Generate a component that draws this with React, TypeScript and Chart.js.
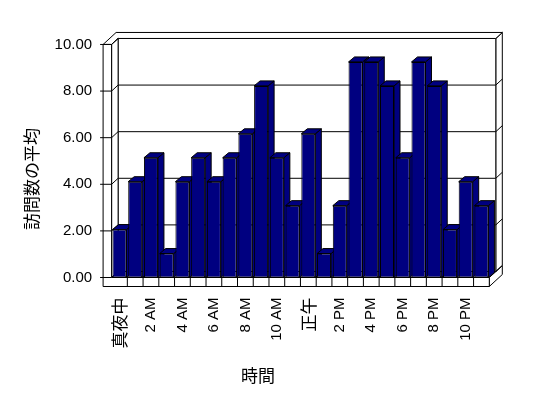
import React, { useEffect, useRef } from "react";
import { Chart, registerables } from "chart.js";

Chart.register(...registerables);

const categories = [
  "真夜中", "1 AM", "2 AM", "3 AM", "4 AM", "5 AM", "6 AM", "7 AM", "8 AM", "9 AM", "10 AM", "11 AM",
  "正午", "1 PM", "2 PM", "3 PM", "4 PM", "5 PM", "6 PM", "7 PM", "8 PM", "9 PM", "10 PM", "11 PM",
];
const visits = [2, 4, 5, 1, 4, 5, 4, 5, 6, 8, 5, 3, 6, 1, 3, 9, 9, 8, 5, 9, 8, 2, 4, 3];
const yTickValues = [0, 2, 4, 6, 8, 10];
const yTickLabels = ["0.00", "2.00", "4.00", "6.00", "8.00", "10.00"];
const xAxisTitle = "時間";
const yAxisTitle = "訪問数の平均";

const NAVY = "#000080";
const DX = 6.5;
const DY = -6;
const BDX = 6;
const BDY = -5;
const KF = 0.973;
const LATIN = "'Liberation Sans', Arial, sans-serif";
const CJK = "'Noto Sans CJK JP', 'Noto Sans CJK SC', sans-serif";

function poly(ctx: CanvasRenderingContext2D, pts: number[][], fill: string | null) {
  ctx.beginPath();
  pts.forEach((p, i) => (i === 0 ? ctx.moveTo(p[0], p[1]) : ctx.lineTo(p[0], p[1])));
  ctx.closePath();
  if (fill) {
    ctx.fillStyle = fill;
    ctx.fill();
  }
  ctx.stroke();
}
function line(ctx: CanvasRenderingContext2D, x1: number, y1: number, x2: number, y2: number) {
  ctx.beginPath();
  ctx.moveTo(x1, y1);
  ctx.lineTo(x2, y2);
  ctx.stroke();
}
const isCJK = (s: string) => /[\u3000-\u9fff]/.test(s);

const box3d = {
  id: "box3d",
  beforeDatasetsDraw(chart: any) {
    const { ctx, chartArea: ca, scales } = chart;
    const ys = scales.y;
    const xs = scales.x;
    const y0 = ys.getPixelForValue(0);
    const yF = (v: number) => y0 - (y0 - ys.getPixelForValue(v)) * KF;
    const yB = (v: number) => yF(v) + DY;
    const L1 = ca.left;
    const L0 = L1 - 8.5;
    const R = ca.right;
    const Ft = y0;
    const Fb = Ft + 9;
    const Wt = yF(yTickValues[yTickValues.length - 1]);
    ctx.save();
    ctx.lineWidth = 1;
    ctx.strokeStyle = "#000";
    // floor right face
    poly(ctx, [[R, Ft], [R + 2 * DX, Ft + 2 * DY], [R + 2 * DX, Fb + 2 * DY], [R, Fb]], "#fff");
    // back wall right face
    poly(ctx, [[R + DX, Wt + DY], [R + 2 * DX, Wt + 2 * DY], [R + 2 * DX, Ft + 2 * DY], [R + DX, Ft + DY]], "#fff");
    yTickValues.forEach((v) => line(ctx, R + DX, yB(v), R + 2 * DX, yB(v) + DY));
    // back wall inner face
    poly(ctx, [[L1 + DX, Wt + DY], [R + DX, Wt + DY], [R + DX, Ft + DY], [L1 + DX, Ft + DY]], "#fff");
    yTickValues.forEach((v) => line(ctx, L1 + DX, yB(v), R + DX, yB(v)));
    // top of walls
    poly(ctx, [[L0, Wt], [L0 + 2 * DX, Wt + 2 * DY], [R + 2 * DX, Wt + 2 * DY], [R + DX, Wt + DY], [L1 + DX, Wt + DY], [L1, Wt]], "#fff");
    // floor top
    poly(ctx, [[L1, Ft], [R, Ft], [R + DX, Ft + DY], [L1 + DX, Ft + DY]], "#fff");
    // left wall inner face
    poly(ctx, [[L1, Wt], [L1 + DX, Wt + DY], [L1 + DX, Ft + DY], [L1, Ft]], "#fff");
    yTickValues.forEach((v) => line(ctx, L1, yF(v), L1 + DX, yB(v)));
    // front faces (left wall + floor)
    poly(ctx, [[L0, Wt], [L1, Wt], [L1, Ft], [R, Ft], [R, Fb], [L0, Fb]], "#fff");
    yTickValues.forEach((v) => line(ctx, L0 - 3, yF(v), L1, yF(v)));
    for (let i = 1; i < categories.length; i++) {
      const bx = (xs.getPixelForValue(i - 1) + xs.getPixelForValue(i)) / 2;
      line(ctx, bx, Ft, bx, Fb);
    }
    // bar sides and tops
    const meta = chart.getDatasetMeta(0);
    meta.data.forEach((el: any) => {
      const { x, y, base, width } = el.getProps(["x", "y", "base", "width"], true);
      const xL = x - width / 2;
      const xR = x + width / 2;
      poly(ctx, [[xR, y], [xR + BDX, y + BDY], [xR + BDX, base + BDY], [xR, base]], NAVY);
      poly(ctx, [[xL, y], [xL + BDX, y + BDY], [xR + BDX, y + BDY], [xR, y]], NAVY);
    });
    ctx.restore();
  },
  afterDraw(chart: any) {
    const { ctx, chartArea: ca, scales } = chart;
    const ys = scales.y;
    const xs = scales.x;
    const y0 = ys.getPixelForValue(0);
    const yF = (v: number) => y0 - (y0 - ys.getPixelForValue(v)) * KF;
    const L0 = ca.left - 8.5;
    const Fb = y0 + 9;
    ctx.save();
    ctx.fillStyle = "#000";
    ctx.font = `15px ${LATIN}`;
    ctx.textAlign = "right";
    ctx.textBaseline = "middle";
    yTickValues.forEach((v, i) => ctx.fillText(yTickLabels[i], L0 - 11, yF(v)));
    categories.forEach((c, i) => {
      if (i % 2 !== 0) return;
      ctx.save();
      ctx.translate(xs.getPixelForValue(i), Fb + 11);
      ctx.rotate(-Math.PI / 2);
      ctx.textAlign = "right";
      ctx.textBaseline = "middle";
      ctx.font = isCJK(c) ? `17px ${CJK}` : `15px ${LATIN}`;
      ctx.fillText(c, 0, 0);
      ctx.restore();
    });
    ctx.font = `17px ${CJK}`;
    ctx.textAlign = "center";
    ctx.textBaseline = "middle";
    ctx.fillText(xAxisTitle, 258, 376);
    ctx.save();
    ctx.translate(32, 179);
    ctx.rotate(-Math.PI / 2);
    ctx.fillText(yAxisTitle, 0, 0);
    ctx.restore();
    ctx.restore();
  },
};

export default function App() {
  const ref = useRef<HTMLCanvasElement>(null);
  useEffect(() => {
    if (!ref.current) return;
    const chart = new Chart(ref.current, {
      type: "bar",
      data: {
        labels: categories,
        datasets: [
          {
            data: visits,
            backgroundColor: NAVY,
            borderColor: "#000",
            borderWidth: 1,
            borderSkipped: false,
            categoryPercentage: 1,
            barPercentage: 0.89,
          },
        ],
      },
      options: {
        responsive: false,
        animation: false,
        layout: { padding: { left: 111.6, right: 58.7, top: 38, bottom: 120.5 } },
        scales: {
          x: { display: false },
          y: { display: false, min: 0, max: 10 },
        },
        plugins: { legend: { display: false }, tooltip: { enabled: false } },
      },
      plugins: [box3d],
    });
    return () => chart.destroy();
  }, []);
  return (
    <div style={{ position: "absolute", left: 0, top: 0, width: 548, height: 398, background: "#fff" }}>
      <canvas ref={ref} width={548} height={398} />
    </div>
  );
}
